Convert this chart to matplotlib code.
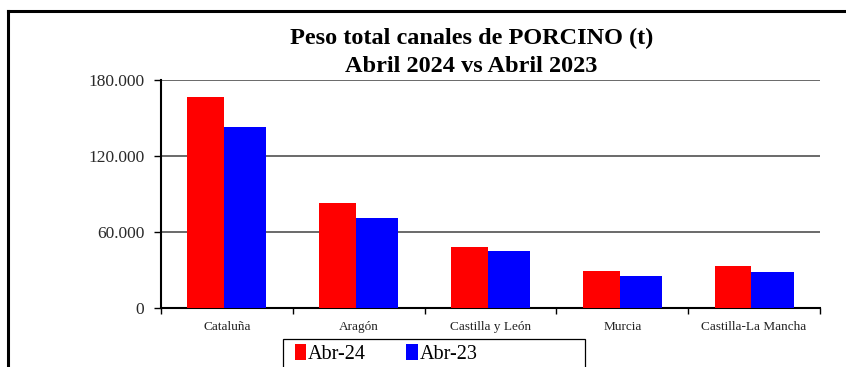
"""Peso total de canales de porcino por comunidad: abril 2024 frente a abril 2023."""

import matplotlib

matplotlib.use("Agg")
import matplotlib.pyplot as plt
import numpy as np
from matplotlib.lines import Line2D
from matplotlib.patches import Rectangle
from matplotlib.ticker import FuncFormatter, MultipleLocator

COMUNIDADES = ["Cataluña", "Aragón", "Castilla y León", "Murcia", "Castilla-La Mancha"]
PESO_ABR_24 = [166600, 82700, 48100, 29200, 33100]
PESO_ABR_23 = [143100, 70800, 45000, 24700, 28400]
SERIES = ["Abr-24", "Abr-23"]

SERIF = ["Liberation Serif", "DejaVu Serif"]


def miles(valor, _pos):
    return f"{int(valor):,}".replace(",", ".")


def main() -> None:
    fig = plt.figure(figsize=(8.46, 3.67), dpi=100)
    ax = fig.add_axes([0.1903, 0.162, 0.7790, 0.620])

    x = np.arange(len(COMUNIDADES))
    ax.bar(x - 0.30, PESO_ABR_24, width=0.28, align="edge", color="#ff0000",
           label=SERIES[0], zorder=3)
    ax.bar(x - 0.02, PESO_ABR_23, width=0.32, align="edge", color="#0000ff",
           label=SERIES[1], zorder=3)

    ax.set_xlim(-0.5, len(COMUNIDADES) - 0.5)
    ax.set_ylim(0, 180000)
    ax.yaxis.set_major_locator(MultipleLocator(60000))
    ax.yaxis.set_major_formatter(FuncFormatter(miles))
    ax.grid(axis="y", color="#505050", linewidth=1.2, zorder=1)

    # ticks del eje x en los limites entre categorias, etiquetas centradas
    ax.set_xticks(np.arange(len(COMUNIDADES) + 1) - 0.5)
    ax.set_xticklabels([])
    ax.set_xticks(x, minor=True)
    ax.set_xticklabels(COMUNIDADES, minor=True, fontsize=9.5, family=SERIF, color="#222222")
    ax.tick_params(axis="x", which="minor", length=0, pad=10)
    ax.tick_params(axis="x", which="major", length=4, width=1, direction="out")
    ax.tick_params(axis="y", length=5, width=1, direction="out", labelsize=12.5, pad=7,
                   labelcolor="#2a2a2a")
    for lbl in ax.get_yticklabels():
        lbl.set_family(SERIF)

    for lado in ("top", "right"):
        ax.spines[lado].set_visible(False)
    ax.spines["left"].set_linewidth(1.5)
    ax.spines["bottom"].set_linewidth(1.5)

    fig.text(0.557, 1 - 38 / 367, "Peso total canales de PORCINO (t)", ha="center",
             va="center", fontsize=17.5, fontweight="bold", family=SERIF)
    fig.text(0.557, 1 - 67 / 367, "Abril 2024 vs Abril 2023", ha="center",
             va="center", fontsize=17.5, fontweight="bold", family=SERIF)

    # marco exterior: solo lados superior e izquierdo quedan dentro de la imagen
    fig.add_artist(Line2D([8 / 846, 1.0], [1 - 11 / 367, 1 - 11 / 367],
                          color="black", linewidth=2.2, transform=fig.transFigure))
    fig.add_artist(Line2D([8 / 846, 8 / 846], [0.0, 1 - 11 / 367],
                          color="black", linewidth=2.2, transform=fig.transFigure))

    # caja de la leyenda, se sale por abajo
    fig.add_artist(Rectangle((283 / 846, -0.05), 302 / 846, 0.05 + (367 - 339) / 367,
                             transform=fig.transFigure, fill=False,
                             edgecolor="black", linewidth=0.9))
    fig.legend(loc="center left", bbox_to_anchor=(281 / 846, 1 - 354 / 367), ncol=2,
               frameon=False, prop={"family": SERIF, "size": 14.5},
               handlelength=0.55, handleheight=0.85, handletextpad=0.1,
               columnspacing=2.0, borderpad=0.2)

    fig.savefig("out.png", dpi=100)
    plt.close(fig)


if __name__ == "__main__":
    main()
